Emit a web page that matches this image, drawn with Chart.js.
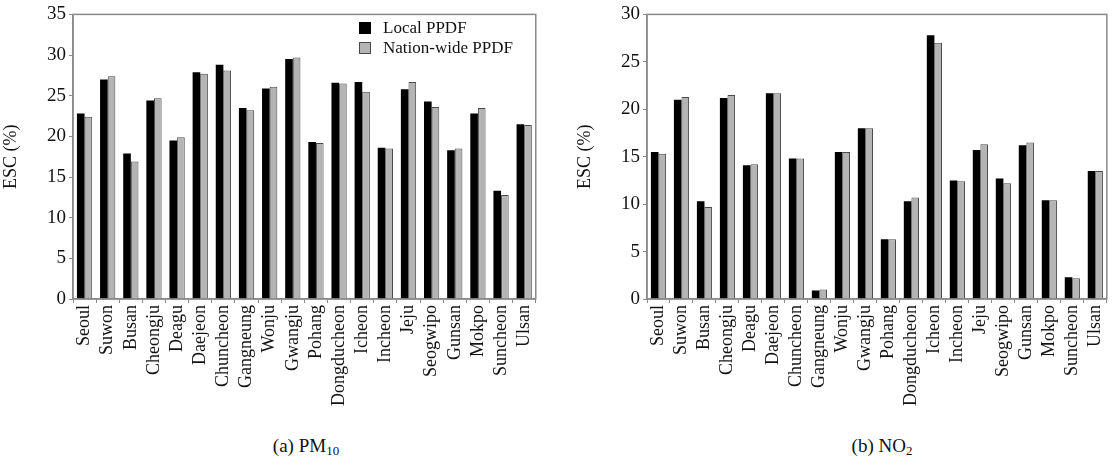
<!DOCTYPE html>
<html>
<head>
<meta charset="utf-8">
<script src="https://cdn.jsdelivr.net/npm/chart.js@4/dist/chart.umd.min.js"></script>
<style>
  body { margin: 0; background: #fff; overflow: hidden; width: 1119px; height: 464px; position: relative; }
  canvas { position: absolute; top: 0; }
  #pmChart { left: 0; }
  #no2Chart { left: 574px; }
  .cap { position: absolute; top: 435px; font: 19px "Liberation Serif", "Times New Roman", serif; color: #111; transform: translateX(-50%); white-space: nowrap; }
  .cap sub { font-size: 13px; vertical-align: -3px; line-height: 0; }
</style>
</head>
<body>
<canvas id="pmChart" width="548" height="425"></canvas>
<canvas id="no2Chart" width="545" height="425"></canvas>
<div class="cap" style="left:306px">(a) PM<sub>10</sub></div>
<div class="cap" style="left:882px">(b) NO<sub>2</sub></div>
<script>
const cities = ['Seoul', 'Suwon', 'Busan', 'Cheongju', 'Deagu', 'Daejeon', 'Chuncheon', 'Gangneung', 'Wonju', 'Gwangju',
  'Pohang', 'Dongducheon', 'Icheon', 'Incheon', 'Jeju', 'Seogwipo', 'Gunsan', 'Mokpo', 'Suncheon', 'Ulsan'];
const seriesNames = ['Local PPDF', 'Nation-wide PPDF'];

// PM10
const pmLocal = [22.8, 27.0, 17.9, 24.4, 19.5, 27.9, 28.8, 23.5, 25.9, 29.5, 19.3, 26.6, 26.7, 18.6, 25.8, 24.3, 18.3, 22.8, 13.3, 21.5];
const pmNation = [22.4, 27.4, 16.9, 24.7, 19.9, 27.7, 28.1, 23.2, 26.1, 29.7, 19.2, 26.5, 25.5, 18.5, 26.7, 23.6, 18.5, 23.5, 12.8, 21.4];
// NO2
const no2Local = [15.5, 21.0, 10.3, 21.2, 14.1, 21.7, 14.8, 0.9, 15.5, 18.0, 6.3, 10.3, 27.8, 12.5, 15.7, 12.7, 16.2, 10.4, 2.3, 13.5];
const no2Nation = [15.3, 21.3, 9.7, 21.5, 14.2, 21.7, 14.8, 1.0, 15.5, 18.0, 6.3, 10.7, 27.0, 12.4, 16.3, 12.2, 16.5, 10.4, 2.2, 13.5];

const pmTicks = { max: 35, step: 5 };
const no2Ticks = { max: 30, step: 5 };

const serif = '"Liberation Serif", "Times New Roman", serif';
const axisGray = '#8a8a8a';

// box round the plot area
const frame = {
  id: 'frame',
  afterDraw(chart) {
    const a = chart.chartArea, ctx = chart.ctx;
    ctx.save();
    ctx.strokeStyle = axisGray;
    ctx.lineWidth = 1.5;
    ctx.strokeRect(a.left, a.top, a.right - a.left, a.bottom - a.top);
    ctx.restore();
  }
};

// legend inside the plot, top right
const innerLegend = {
  id: 'innerLegend',
  afterDraw(chart, args, opts) {
    if (!opts.show) return;
    const ctx = chart.ctx;
    ctx.save();
    ctx.font = '17px ' + serif;
    ctx.textBaseline = 'middle';
    chart.data.datasets.forEach((ds, i) => {
      const y = opts.y + i * 20;
      ctx.fillStyle = ds.backgroundColor;
      ctx.fillRect(opts.x, y, 12, 12);
      ctx.strokeStyle = ds.borderColor;
      ctx.lineWidth = 1;
      ctx.strokeRect(opts.x + 0.5, y + 0.5, 11, 11);
      ctx.fillStyle = '#111';
      ctx.fillText(ds.label, opts.x + 24, y + 6.5);
    });
    ctx.restore();
  }
};

function makeChart(id, local, nation, yt, showLegend, rightPad) {
  return new Chart(document.getElementById(id), {
    type: 'bar',
    data: {
      labels: cities,
      datasets: [
        { label: seriesNames[0], data: local, backgroundColor: '#000000', borderColor: '#000000', borderWidth: 0 },
        { label: seriesNames[1], data: nation, backgroundColor: '#b4b4b4', borderColor: '#4a4a4a', borderWidth: 1 }
      ]
    },
    options: {
      responsive: false,
      animation: false,
      devicePixelRatio: 1,
      layout: { autoPadding: false, padding: { top: 12, right: rightPad, bottom: 0, left: 0 } },
      datasets: { bar: { categoryPercentage: 0.66, barPercentage: 1.0 } },
      plugins: {
        legend: { display: false },
        tooltip: { enabled: false },
        innerLegend: { show: showLegend, x: 359, y: 22 }
      },
      scales: {
        x: {
          grid: { display: true, drawOnChartArea: false, tickLength: 4, color: axisGray, offset: true },
          border: { color: axisGray, width: 1.5 },
          ticks: { minRotation: 90, maxRotation: 90, autoSkip: false, padding: 2, color: '#111', font: { family: serif, size: 18 } },
          afterFit: (s) => { s.height = 126; }
        },
        y: {
          min: 0,
          max: yt.max,
          ticks: { stepSize: yt.step, padding: 3, color: '#111', font: { family: serif, size: 19 } },
          grid: { display: true, drawOnChartArea: false, tickLength: 4, color: axisGray },
          border: { color: axisGray, width: 1.5 },
          title: { display: true, text: 'ESC (%)', color: '#111', font: { family: serif, size: 18 }, padding: { top: 0, bottom: 2 } },
          afterFit: (s) => { s.width = 73; }
        }
      }
    },
    plugins: [frame, innerLegend]
  });
}

makeChart('pmChart', pmLocal, pmNation, pmTicks, true, 8);
makeChart('no2Chart', no2Local, no2Nation, no2Ticks, false, 2);
</script>
</body>
</html>
